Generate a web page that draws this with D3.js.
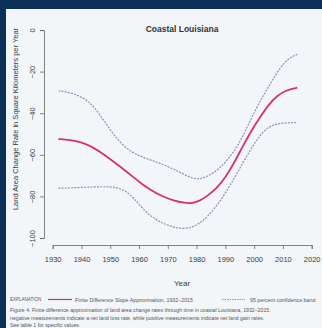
<!DOCTYPE html>
<html><head><meta charset="utf-8">
<script src="https://cdn.jsdelivr.net/npm/d3@7"></script>
<style>html,body{margin:0;padding:0;background:#0b3158;}svg{display:block;}</style>
</head><body>
<svg id="c" width="322" height="328"></svg>
<script>
const title = "Coastal Louisiana";
const xTicks = [1930,1940,1950,1960,1970,1980,1990,2000,2010,2020];
const yTicks = [0,-20,-40,-60,-80,-100];
const estYears = [1932,1936,1940,1944,1948,1952,1956,1960,1964,1968,1972,1976,1978,1981,1984,1987,1990,1993,1996,1999,2002,2005,2008,2011,2015];
const estValues = [-52.4,-52.8,-54,-56.3,-60,-64.2,-68.5,-73,-77,-80,-82,-83.2,-83.4,-82.3,-79.5,-76,-71,-64,-56,-48.5,-42,-36,-31.5,-29,-27.7];
const upYears = [1932,1936,1940,1944,1948,1952,1956,1960,1965,1970,1975,1979,1982,1985,1988,1991,1994,1997,2000,2003,2006,2009,2012,2015];
const upValues = [-29.2,-30,-32,-36,-44,-52,-57.5,-60.5,-63,-65.5,-69,-71.7,-71.5,-69.5,-66.5,-62,-56.5,-48.5,-39.5,-32,-25,-18,-13.5,-11.7];
const loYears = [1932,1940,1948,1952,1955,1958,1961,1964,1967,1970,1974,1978,1981,1984,1987,1990,1993,1996,1999,2002,2005,2008,2012,2015];
const loValues = [-76.1,-75.7,-75.2,-75.6,-77,-80.5,-85.5,-89.5,-92,-94,-95.6,-95.2,-93,-89.5,-84.5,-78.5,-71.5,-64,-57,-50.5,-46.5,-45,-44.6,-44.5];
const xLabel = "Year";
const yLabel = "Land Area Change Rate in Square Kilometers per Year";
const legendTitle = "EXPLANATION";
const legendItems = ["Finite Difference Slope Approximation, 1932–2015", "95 percent confidence band"];
const captionLines = [
 "Figure 4. Finite difference approximation of land area change rates through time in coastal Louisiana, 1932–2015.",
 "negative measurements indicate a net land loss rate, while positive measurements indicate net land gain rates.",
 "See table 1 for specific values."
];

const svg = d3.select("#c");
svg.append("rect").attr("x",6).attr("y",9).attr("width",316).attr("height",319).attr("fill","#f3f6f9");

const x = d3.scaleLinear().domain([1930,2020]).range([52.7,311.7]);
const y = d3.scaleLinear().domain([0,-100]).range([30,238]);
const RED = "#d6336b", BLUE = "#8c90b8", TXT = "#3a3a3a";
const font = "'Liberation Sans Narrow','Liberation Sans',Arial,sans-serif";

// axes
const gx = svg.append("g").attr("transform","translate(0,245)")
  .call(d3.axisBottom(x).tickValues(xTicks).tickFormat(d3.format("d")).tickSize(4).tickPadding(8));
const gy = svg.append("g").attr("transform","translate(44,0)")
  .call(d3.axisLeft(y).tickValues(yTicks).tickSize(4).tickPadding(7));
[gx,gy].forEach(g=>{
  g.select(".domain").attr("stroke","#666").attr("stroke-width",0.8);
  g.selectAll(".tick line").attr("stroke","#666").attr("stroke-width",0.8);
  g.selectAll("text").attr("fill",TXT).style("font-family",font).style("font-size","7.5px");
});
gy.selectAll(".tick text").attr("text-anchor","middle")
  .attr("transform","translate(-12,0) rotate(-90)").attr("x",0).attr("y",0).attr("dy","0.35em");

// lines
const line = d3.line().x(d=>x(d[0])).y(d=>y(d[1])).curve(d3.curveBasis);
const up = upYears.map((v,i)=>[v,upValues[i]]);
const lo = loYears.map((v,i)=>[v,loValues[i]]);
const est = estYears.map((v,i)=>[v,estValues[i]]);
[up,lo].forEach(s=>svg.append("path").attr("d",line(s)).attr("fill","none")
  .attr("stroke",BLUE).attr("stroke-width",1.2).attr("stroke-dasharray","2,1.2"));
svg.append("path").attr("d",line(est)).attr("fill","none").attr("stroke",RED).attr("stroke-width",1.8);

// texts
svg.append("text").attr("x",182).attr("y",32).attr("text-anchor","middle")
  .style("font-family","'Liberation Sans',Arial,sans-serif").style("font-weight","bold").style("font-size","8.5px").attr("fill","#333").text(title);
svg.append("text").attr("x",182).attr("y",286).attr("text-anchor","middle")
  .style("font-family",font).style("font-size","8px").attr("fill",TXT).text(xLabel);
svg.append("text").attr("transform","translate(18,119) rotate(-90)").attr("text-anchor","middle")
  .style("font-family",font).style("font-size","7.5px").attr("fill",TXT).text(yLabel);

// legend
svg.append("text").attr("x",10).attr("y",301).style("font-family",font).style("font-size","4.5px").attr("fill","#555").text(legendTitle);
svg.append("line").attr("x1",48).attr("x2",72).attr("y1",299.5).attr("y2",299.5).attr("stroke",RED).attr("stroke-width",1.2);
svg.append("text").attr("x",75).attr("y",301.5).style("font-family",font).style("font-size","5.3px").attr("fill","#555").text(legendItems[0]);
svg.append("line").attr("x1",222).attr("x2",245).attr("y1",299.5).attr("y2",299.5).attr("stroke",BLUE).attr("stroke-width",1).attr("stroke-dasharray","1.5,1");
svg.append("text").attr("x",250).attr("y",301.5).style("font-family",font).style("font-size","5.3px").attr("fill","#555").text(legendItems[1]);
captionLines.forEach((t,i)=>svg.append("text").attr("x",10).attr("y",312+i*7.5)
  .style("font-family",font).style("font-size","5.2px").attr("fill","#555").text(t));
</script>
</body></html>
